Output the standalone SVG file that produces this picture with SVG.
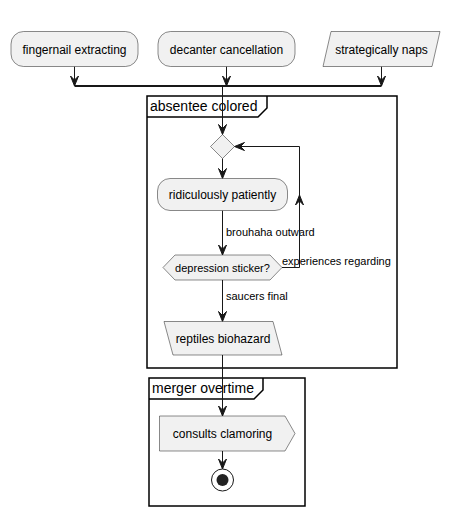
<svg xmlns="http://www.w3.org/2000/svg" width="460" height="515" viewBox="0 0 460 515">
  <style>
    .node { fill: #F1F1F1; stroke: #181818; stroke-width: 0.5; }
    .frame { fill: none; stroke: #000000; stroke-width: 1.5; }
    .edge { fill: none; stroke: #181818; stroke-width: 1; }
    .bar { fill: none; stroke: #181818; stroke-width: 2; }
    .head { fill: #181818; stroke: #181818; stroke-width: 1; }
    text { font-family: "Liberation Sans", Arial, sans-serif; fill: #000000; }
    .lbl12 { font-size: 12px; text-anchor: middle; }
    .lbl11 { font-size: 11px; }
    .title { font-size: 14px; }
  </style>
  <defs>
    <!-- arrowhead pointing down, tip at origin -->
    <polygon id="ahDown" class="head" points="-4,-10 0,0 4,-10 0,-6"/>
    <polygon id="ahUp" class="head" points="-4,10 0,0 4,10 0,6"/>
    <polygon id="ahLeft" class="head" points="10,-4 0,0 10,4 6,0"/>
  </defs>

  <!-- partition frames -->
  <g id="frame-absentee">
    <rect class="frame" x="147" y="96" width="250" height="272"/>
    <path class="frame" d="M147,117 L258,117 L267,108 L267,96"/>
    <text class="title" x="150" y="111">absentee colored</text>
  </g>
  <g id="frame-merger">
    <rect class="frame" x="149" y="378" width="156" height="128"/>
    <path class="frame" d="M149,399 L254,399 L263,390 L263,378"/>
    <text class="title" x="152" y="393">merger overtime</text>
  </g>

  <!-- connectors -->
  <g id="connectors">
    <path class="edge" d="M74.5,66.5 V86"/>
    <use href="#ahDown" x="74.5" y="86"/>
    <path class="edge" d="M226.5,66.5 V86"/>
    <use href="#ahDown" x="226.5" y="86"/>
    <path class="edge" d="M381.5,66.5 V86"/>
    <use href="#ahDown" x="381.5" y="86"/>
    <path class="bar" d="M74.5,86 H381.5"/>

    <path class="edge" d="M222.5,86 V134.5"/>
    <use href="#ahDown" x="222.5" y="134.5"/>

    <path class="edge" d="M222.5,158.5 V178.5"/>
    <use href="#ahDown" x="222.5" y="178.5"/>

    <path class="edge" d="M222.5,210.5 V255"/>
    <use href="#ahDown" x="222.5" y="255"/>
    <text class="lbl11" x="226" y="236">brouhaha outward</text>

    <path class="edge" d="M282,267.5 H299.5 V146.5 H234.5"/>
    <use href="#ahLeft" x="234.5" y="146.5"/>
    <use href="#ahUp" x="299.5" y="195"/>
    <text class="lbl11" x="282" y="265">experiences regarding</text>

    <path class="edge" d="M222.5,280 V321.5"/>
    <use href="#ahDown" x="222.5" y="321.5"/>
    <text class="lbl11" x="226" y="300">saucers final</text>

    <path class="edge" d="M222.5,355 V416"/>
    <use href="#ahDown" x="222.5" y="416"/>

    <path class="edge" d="M222.5,451 V469"/>
    <use href="#ahDown" x="222.5" y="469"/>
  </g>

  <!-- nodes -->
  <g id="fingernail-extracting">
    <rect class="node" x="11" y="31.5" width="127" height="35" rx="12.5"/>
    <text class="lbl12" x="74.5" y="53.5">fingernail extracting</text>
  </g>
  <g id="decanter-cancellation">
    <rect class="node" x="158" y="31.5" width="137" height="35" rx="12.5"/>
    <text class="lbl12" x="226.5" y="53.5">decanter cancellation</text>
  </g>
  <g id="strategically-naps">
    <polygon class="node" points="331,31.5 440,31.5 432,66.5 323,66.5"/>
    <text class="lbl12" x="381.5" y="53.5">strategically naps</text>
  </g>
  <g id="loop-merge">
    <polygon class="node" points="222.5,134.5 234.5,146.5 222.5,158.5 210.5,146.5"/>
  </g>
  <g id="ridiculously-patiently">
    <rect class="node" x="157.5" y="178.5" width="130" height="32" rx="12.5"/>
    <text class="lbl12" x="222.5" y="199">ridiculously patiently</text>
  </g>
  <g id="depression-sticker">
    <polygon class="node" points="163,267.5 175,255 270,255 282,267.5 270,280 175,280"/>
    <text class="lbl11" x="222.5" y="271.5" text-anchor="middle">depression sticker?</text>
  </g>
  <g id="reptiles-biohazard">
    <polygon class="node" points="164,321.5 273,321.5 282,355 173,355"/>
    <text class="lbl12" x="223" y="342.5">reptiles biohazard</text>
  </g>
  <g id="consults-clamoring">
    <polygon class="node" points="159.5,416 285,416 295,433.5 285,451 159.5,451"/>
    <text class="lbl12" x="222.5" y="438">consults clamoring</text>
  </g>
  <g id="stop">
    <circle cx="222.5" cy="480" r="11" fill="none" stroke="#181818" stroke-width="1"/>
    <circle cx="222.5" cy="480" r="6" fill="#222222"/>
  </g>
</svg>
